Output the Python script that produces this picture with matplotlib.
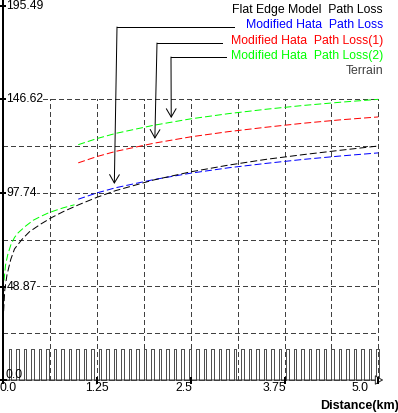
import numpy as np
import matplotlib
matplotlib.use("Agg")
import matplotlib.pyplot as plt
from matplotlib.lines import Line2D
from matplotlib.transforms import IdentityTransform

plt.rcParams['font.family'] = ['Liberation Sans', 'DejaVu Sans']
plt.rcParams['lines.scale_dashes'] = False

# ---------------- data ----------------
flat_d = [0.005, 0.02, 0.05, 0.1, 0.15, 0.25, 0.35, 0.5, 0.65, 0.8, 1.0, 1.25, 1.5,
          2.0, 2.5, 3.0, 3.5, 4.0, 4.5, 5.0]
flat_pl = [36.0, 47.0, 55.0, 63.0, 68.5, 73.5, 77.5, 81.5, 85.0, 88.0, 91.5, 95.5, 99.0,
           104.5, 108.8, 112.3, 115.3, 117.8, 120.1, 122.3]

hata_d = [1.0, 1.25, 1.5, 2.0, 2.5, 3.0, 3.5, 4.0, 4.5, 5.0]
hata_pl = [94.5, 97.8, 100.5, 104.7, 108.1, 110.9, 113.2, 115.3, 117.1, 118.7]
hata1_pl = [113.5, 116.8, 119.5, 123.7, 127.1, 129.8, 132.1, 134.2, 136.0, 137.5]
hata2_pl = [123.0, 126.2, 128.9, 133.1, 136.5, 139.2, 141.5, 143.5, 145.2, 146.7]

hata2_near_d = [0.01, 0.03, 0.06, 0.1, 0.15, 0.2, 0.3, 0.4, 0.5, 0.6, 0.7, 0.8, 0.95]
hata2_near_pl = [52.0, 60.0, 65.5, 70.5, 74.5, 77.0, 80.5, 83.5, 85.5, 87.3, 88.7, 90.0, 91.6]

terrain_h = [16.2, 16.2, 16.2, 16.2, 16.2, 16.2, 16.2, 16.2, 16.2, 16.2,
             16.2, 16.2, 16.2, 16.2, 16.2, 16.2, 16.2, 16.2, 16.2, 16.2,
             16.2, 16.2, 16.2, 16.2, 16.2, 16.2, 16.2, 16.2, 16.2, 16.2,
             16.2, 16.2, 16.2, 16.2, 16.2, 16.2, 16.2, 16.2, 16.2, 16.2,
             16.2, 16.2, 16.2, 16.2, 16.2, 16.2, 16.2, 16.2, 16.2, 16.2]
terrain_start = 0.07
terrain_step = 0.1
terrain_width = 0.035

y_ticks = [0.0, 48.87, 97.74, 146.62, 195.49]
y_tick_labels = ["0.0", "48.87", "97.74", "146.62", "195.49"]
x_ticks = [0.0, 1.25, 2.5, 3.75, 5.0]
x_tick_labels = ["0.0", "1.25", "2.5", "3.75", "5.0"]
x_label = "Distance(km)"

legend_labels = ["Flat Edge Model  Path Loss", "Modified Hata  Path Loss",
                 "Modified Hata  Path Loss(1)", "Modified Hata  Path Loss(2)", "Terrain"]
legend_colors = ["#000000", "#0000ff", "#ff0000", "#00ff00", "#404040"]

# ---------------- figure geometry ----------------
W, H = 398, 413
fig = plt.figure(figsize=(W / 100, H / 100), dpi=100)
ax = fig.add_axes([0, 0, 1, 1])
ax.axis('off')
X0, KX = 3.25, 75.0          # pixel of x=0, pixels per km
Y0, KY = 380.0, 93.5 / 48.87  # pixel (from top) of y=0, pixels per dB
ax.set_xlim(-X0 / KX, (W - X0) / KX)
ax.set_ylim((Y0 - H) / KY, Y0 / KY)

LW = 0.72
GRID_C = "#404040"
grid_top = y_ticks[3]
x_max = x_ticks[-1]

# grid
for k in range(1, 9):
    gx = x_max * k / 8
    ax.plot([gx, gx], [0, grid_top], color=GRID_C, lw=LW, dashes=(2.9, 2.2), zorder=1,
            antialiased=False)
for k in range(1, 7):
    gy = grid_top * k / 6
    ax.plot([0, x_max], [gy, gy], color=GRID_C, lw=LW, dashes=(2.9, 2.2), zorder=1,
            antialiased=False)

# terrain
tx, ty = [0.0], [0.0]
for i, h in enumerate(terrain_h):
    s = terrain_start + i * terrain_step
    tx += [s, s, s + terrain_width, s + terrain_width]
    ty += [0.0, h, h, 0.0]
tx.append(x_max); ty.append(0.0)
ax.plot(tx, ty, color="#505050", lw=LW, zorder=2, antialiased=False)

# curves
dash = (5.0, 2.2)
ax.plot(hata2_near_d, hata2_near_pl, color="#00ff00", lw=LW, dashes=dash, zorder=3)
ax.plot(hata_d, hata2_pl, color="#00ff00", lw=LW, dashes=dash, zorder=3)
ax.plot(hata_d, hata1_pl, color="#ff0000", lw=LW, dashes=dash, zorder=3)
ax.plot(hata_d, hata_pl, color="#0000ff", lw=LW, dashes=dash, zorder=3)
ax.plot(flat_d, flat_pl, color="#000000", lw=LW, dashes=dash, zorder=4)

# axes lines
ax.plot([0, 0], [0, Y0 / KY], color="k", lw=1.44, zorder=5, antialiased=False)
ax.annotate("", xy=(x_max + 5 / KX, 0), xytext=(0, 0),
            arrowprops=dict(arrowstyle="-|>,head_length=0.5,head_width=0.3", lw=LW,
                            color="#303030", fc="white", shrinkA=0, shrinkB=0), zorder=5)

FS = 8.7
# y ticks + labels
for v, lab in zip(y_ticks, y_tick_labels):
    ax.plot([-3 / KX, 3 / KX], [v, v], color="k", lw=1.44, zorder=6, antialiased=False)
    dy = 4.5 if v == 0 else 0
    dx = 2 if v == 0 else 3
    ax.annotate(lab, xy=(0, v), xytext=(dx, dy), textcoords="offset pixels",
                ha="left", va="center", fontsize=FS, zorder=6,
                bbox=dict(facecolor="white", edgecolor="none", pad=0) if v > 0 else None)

# x ticks + labels
x_lab_off = [5, 0, -7, -10, -18]
for v, lab, off in zip(x_ticks, x_tick_labels, x_lab_off):
    ax.plot([v, v], [-3 / KY, 2 / KY], color="k", lw=1.44, zorder=6, antialiased=False)
    ax.annotate(lab, xy=(v, 0), xytext=(off, -8), textcoords="offset pixels",
                ha="center", va="center", fontsize=FS, zorder=6)
fig.text(399 / W, 1 - 405.5 / H, x_label, ha="right", va="center", fontsize=9,
         fontweight="bold")

# legend texts
leg_y = [10.5, 25.5, 41, 56, 70.5]
for lab, c, yy in zip(legend_labels, legend_colors, leg_y):
    fig.text(383 / W, 1 - yy / H, lab, ha="right", va="center", color=c, fontsize=8.8)

# leader arrows
ann_series = [(hata_d, hata_pl), (hata_d, hata1_pl), (hata_d, hata2_pl)]
ann_d = [1.48, 2.02, 2.24]
corner_x = [117, 157, 171]
corner_y = [27, 43, 57]
line_end_x = [234, 222, 226]
for (sd, sv), d, cx, cy, ex in zip(ann_series, ann_d, corner_x, corner_y, line_end_x):
    fig.add_artist(Line2D([cx, ex], [H - cy, H - cy], color="k", lw=LW,
                          transform=IdentityTransform(), antialiased=False))
    tip = (d, float(np.interp(d, sd, sv)))
    ax.annotate("", xy=tip, xytext=(cx, H - cy), textcoords="figure pixels",
                arrowprops=dict(arrowstyle="->,head_length=0.6,head_width=0.35", lw=LW,
                                color="k", shrinkA=0, shrinkB=3), zorder=7)

fig.savefig("out.png", dpi=100)
